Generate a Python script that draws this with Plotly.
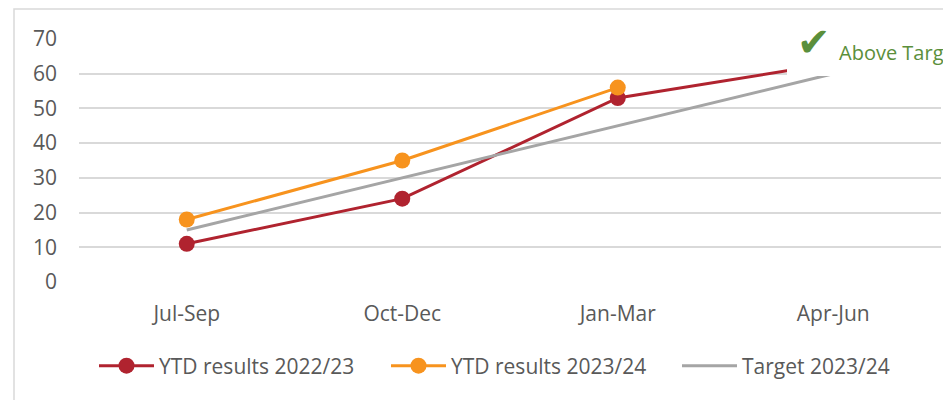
import plotly.graph_objects as go

quarters = ["Jul-Sep", "Oct-Dec", "Jan-Mar", "Apr-Jun"]
ytd_2223 = [11, 24, 53, 63]
ytd_2324 = [18, 35, 56, None]
target_2324 = [15, 30, 45, 60]

RED = "#b0232f"
ORANGE = "#f7931e"
GRAY = "#a5a5a5"
GREEN = "#5b8f3b"
TEXT = "#595959"
GRID = "#d9d9d9"

# the page body has an 8px margin, so the figure starts at (8, 8)
OFF = 8
W, H = 951 - OFF, 400 - OFF
# plot area in page pixels: x 79..941, y 39..282
X0, X1, Y0, Y1 = 79, 941, 39, 282
PW, PH = X1 - X0, Y1 - Y0


def px(x):
    return (x - X0) / PW


def py(y):
    return (Y1 - y) / PH


fig = go.Figure()
fig.add_trace(go.Scatter(
    x=quarters, y=ytd_2223, name="YTD results 2022/23", mode="lines+markers",
    line=dict(color=RED, width=3), marker=dict(size=16, color=RED),
    legend="legend",
))
fig.add_trace(go.Scatter(
    x=quarters, y=ytd_2324, name="YTD results 2023/24", mode="lines+markers",
    line=dict(color=ORANGE, width=3), marker=dict(size=16, color=ORANGE),
    legend="legend2",
))
fig.add_trace(go.Scatter(
    x=quarters, y=target_2324, name="Target 2023/24", mode="lines",
    line=dict(color=GRAY, width=3),
    legend="legend3",
))

# white box behind the "Above Target" note, hides the line ends
fig.add_shape(type="rect", xref="paper", yref="paper", layer="above", opacity=1,
              x0=px(787), x1=px(1000), y0=py(76), y1=py(14),
              fillcolor="white", line=dict(width=0))
# outer chart border (cropped on right/bottom)
fig.add_shape(type="rect", xref="paper", yref="paper", layer="above", opacity=1,
              x0=px(14), x1=px(1000), y0=py(450), y1=py(9),
              fillcolor="rgba(0,0,0,0)", line=dict(color=GRID, width=1.5))

fig.add_annotation(xref="paper", yref="paper", x=px(814), y=py(42),
                   text="✔", showarrow=False, xanchor="center", yanchor="middle",
                   font=dict(family="DejaVu Sans", size=40, color=GREEN))
fig.add_annotation(xref="paper", yref="paper", x=px(837), y=py(53),
                   text="Above Target", showarrow=False, xanchor="left", yanchor="middle",
                   font=dict(family="Open Sans", size=20, color=GREEN))


def legend_at(x_px):
    return dict(orientation="h", x=px(x_px), xanchor="left", y=py(366), yanchor="middle",
                itemwidth=55, font=dict(size=21, color=TEXT), bgcolor="rgba(0,0,0,0)")


fig.update_layout(
    width=W, height=H,
    template="simple_white",
    margin=dict(l=X0 - OFF, r=W - (X1 - OFF), t=Y0 - OFF, b=H - (Y1 - OFF)),
    font=dict(family="Open Sans", size=21, color=TEXT),
    paper_bgcolor="white", plot_bgcolor="white",
    showlegend=True,
    # one legend per series so each entry sits where it does in the original
    legend=legend_at(94),
    legend2=legend_at(386),
    legend3=legend_at(677),
)
fig.update_xaxes(showline=False, ticks="", range=[-0.5, 3.5], ticklabelstandoff=17)
fig.update_yaxes(range=[0, 70], dtick=10, showline=False, ticks="", showgrid=True,
                 gridcolor=GRID, gridwidth=1.5, zeroline=False, ticklabelstandoff=21)

fig.write_html("out.html")
